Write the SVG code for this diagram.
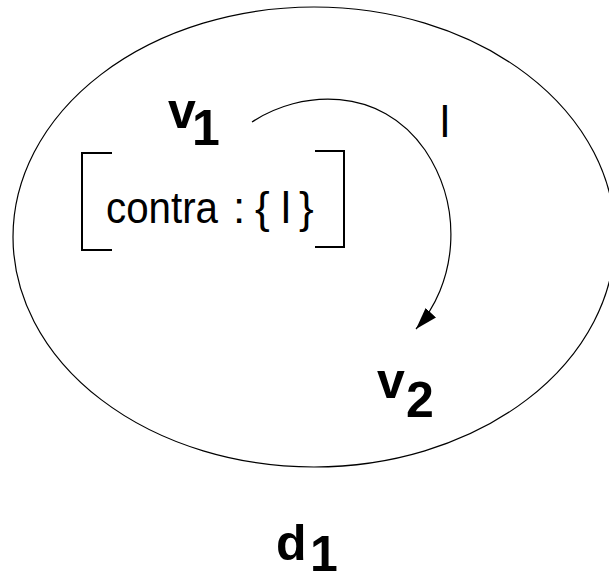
<svg xmlns="http://www.w3.org/2000/svg" width="609" height="582" viewBox="0 0 609 582">
<style>
.line{fill:none;stroke:#000;stroke-width:1.2}
.br{fill:none;stroke:#000;stroke-width:2}
.b{font-family:"Liberation Sans",Arial,sans-serif;font-weight:bold;font-size:50px;fill:#000}
.r{font-family:"Liberation Sans",Arial,sans-serif;font-size:44px;fill:#000}
</style>
<defs>
<marker id="ah" markerWidth="22" markerHeight="14" refX="22" refY="7" orient="auto" markerUnits="userSpaceOnUse">
<path d="M0,0 L22,7 L0,14 Z" fill="#000"/>
</marker>
</defs>
<g id="d1">
<ellipse class="line" cx="314" cy="237" rx="301" ry="230"/>
<text class="b" font-size="54" x="276" y="560">d</text>
<text class="b" font-size="44" x="310" y="571">1</text>
</g>
<g id="v1">
<text class="b" x="168" y="128">v</text>
<text class="b" x="192" y="145">1</text>
<g id="avm">
<path class="br" d="M112,153 H82 V250 H112"/>
<path class="br" d="M315,151 H344 V247 H315"/>
<text class="r" font-size="46" y="223"><tspan x="106" textLength="112" lengthAdjust="spacingAndGlyphs">contra</tspan><tspan x="233">:</tspan><tspan x="255">{</tspan><tspan x="281">l</tspan><tspan x="299">}</tspan></text>
</g>
</g>
<g id="v2">
<text class="b" x="377" y="398">v</text>
<text class="b" x="406" y="417">2</text>
</g>
<g id="connectors">
<path class="line" d="M252,122 C300,90 380,85 425,150 C465,210 456,285 416,329" marker-end="url(#ah)"/>
<text class="r" x="440" y="137">l</text>
</g>
</svg>
